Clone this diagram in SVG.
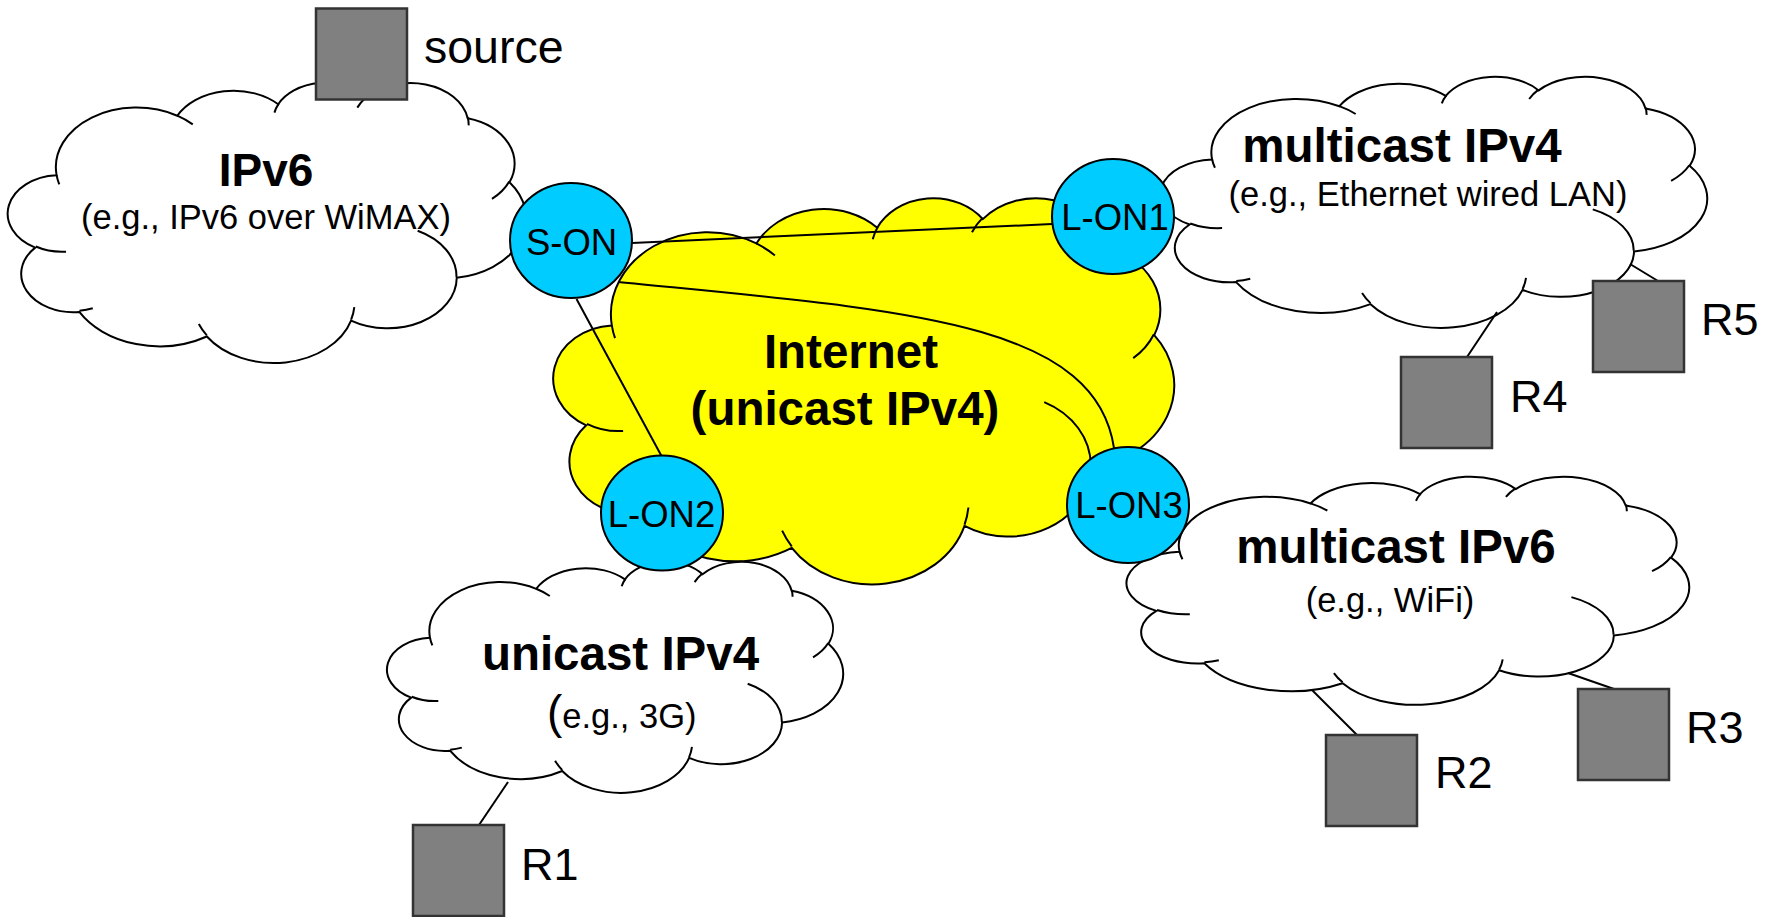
<svg xmlns="http://www.w3.org/2000/svg" xmlns:xlink="http://www.w3.org/1999/xlink" width="1777" height="917" viewBox="0 0 1777 917">
  <style>
    .cloud-body { stroke: #000; stroke-width: 2; vector-effect: non-scaling-stroke; }
    .cloud-fold { fill: none; stroke: #000; stroke-width: 2; vector-effect: non-scaling-stroke; }
    .plain { fill: #fff; }
    .inet { fill: #ffff00; }
    .on { fill: #00ccff; stroke: #000; stroke-width: 2; }
    .host { fill: #808080; stroke: #333; stroke-width: 2.5; }
    .link { fill: none; stroke: #000; stroke-width: 2; }
    text { font-family: "Liberation Sans", Arial, sans-serif; fill: #000; }
    .title { font-size: 47.5px; font-weight: bold; text-anchor: middle; }
    .sub { font-size: 34.5px; text-anchor: middle; }
    .onlabel { font-size: 36.5px; text-anchor: middle; }
    .hostlabel { font-size: 45px; }
  </style>
  <defs>
    <!-- cloud outline in a 1000 x 1000 box, plus the interior fold strokes -->
    <g id="cloud">
      <path class="cloud-body" d="M90.3 332.6 A156.3 212.7 0 0 1 324.2 120.4 A123.4 168.2 0 0 1 519.8 79.5 A101 137.6 0 0 1 690.6 57.4 A112.4 152.7 0 0 1 887 129.1 A123.4 168.4 0 0 1 968 357.9 A156.8 213.4 0 0 1 865.8 699.1 A133.9 182.1 0 0 1 661 852.2 A156.3 213.3 0 0 1 381.5 909 A178.7 244.1 0 0 1 134.4 821.1 A100.9 137 0 0 1 48.9 591.5 A100.6 137.6 0 0 1 90.3 332.6 Z"/>
      <path class="cloud-fold" d="M108.6 605.9 A100.6 137.6 0 0 1 50 587.5 M160.4 807.8 A100.9 137 0 0 1 134.7 816.7 M381.4 904.9 A156.3 213.3 0 0 1 365.9 864.5 M667.3 804.4 A156.3 213.3 0 0 1 661.1 848.6 M790 531.3 A133.9 182.1 0 0 1 865.3 696.5 M967.5 355.4 A123.4 168.4 0 0 1 934 417.4 M887.1 125.6 A112.4 152.7 0 0 1 888.9 154.9 M673.1 91.5 A112.4 152.7 0 0 1 690.3 54.1 M512.5 109.3 A101 137.6 0 0 1 520.8 77.1 M324.1 120.2 A156.3 212.7 0 0 1 354.2 151.4 M95.5 365.5 A156.3 212.7 0 0 1 90.3 332.6"/>
    </g>
  </defs>

  <rect width="1777" height="917" fill="#fff"/>

  <!-- networks -->
  <g id="net-ipv6">
    <use xlink:href="#cloud" class="plain" transform="translate(10 82) scale(0.516 0.28)"/>
  </g>
  <g id="net-internet">
    <use xlink:href="#cloud" class="inet" transform="translate(556 197) scale(0.618 0.386)"/>
  </g>
  <g id="net-mcast-ipv4">
    <use xlink:href="#cloud" class="plain" transform="translate(1163 76) scale(0.544 0.251)"/>
  </g>
  <g id="net-mcast-ipv6">
    <use xlink:href="#cloud" class="plain" transform="translate(1129 476) scale(0.56 0.228)"/>
  </g>
  <g id="net-unicast-ipv4">
    <use xlink:href="#cloud" class="plain" transform="translate(389 561) scale(0.454 0.231)"/>
  </g>

  <!-- links -->
  <g id="connectors">
    <line class="link" x1="632" y1="243" x2="1052" y2="224"/>
    <line class="link" x1="576.5" y1="299" x2="661.5" y2="456"/>
    <path class="link" d="M618 282 C900 310 1095 320 1114 448"/>
    <line class="link" x1="1630" y1="264" x2="1658" y2="281"/>
    <line class="link" x1="1497" y1="312" x2="1467" y2="357"/>
    <line class="link" x1="1568" y1="673" x2="1614" y2="689"/>
    <line class="link" x1="1312" y1="690" x2="1357" y2="735"/>
    <line class="link" x1="508" y1="782" x2="479" y2="825"/>
  </g>

  <!-- overlay nodes -->
  <g id="s-on">
    <ellipse class="on" cx="571" cy="240.5" rx="61" ry="57.5"/>
    <text class="onlabel" x="571.5" y="255">S-ON</text>
  </g>
  <g id="l-on1">
    <ellipse class="on" cx="1113" cy="216.5" rx="61" ry="57.5"/>
    <text class="onlabel" x="1115" y="230">L-ON1</text>
  </g>
  <g id="l-on2">
    <ellipse class="on" cx="662" cy="513" rx="61" ry="57.5"/>
    <text class="onlabel" x="661.5" y="527">L-ON2</text>
  </g>
  <g id="l-on3">
    <ellipse class="on" cx="1128" cy="505" rx="61" ry="58"/>
    <text class="onlabel" x="1129" y="518">L-ON3</text>
  </g>

  <!-- hosts -->
  <g id="source">
    <rect class="host" x="316" y="8.5" width="91" height="91"/>
    <text class="hostlabel" x="424" y="63" style="font-size:46.5px">source</text>
  </g>
  <g id="r1">
    <rect class="host" x="413" y="825" width="91" height="91"/>
    <text class="hostlabel" x="521" y="880">R1</text>
  </g>
  <g id="r2">
    <rect class="host" x="1326" y="735" width="91" height="91"/>
    <text class="hostlabel" x="1435" y="788">R2</text>
  </g>
  <g id="r3">
    <rect class="host" x="1578" y="689" width="91" height="91"/>
    <text class="hostlabel" x="1686" y="743">R3</text>
  </g>
  <g id="r4">
    <rect class="host" x="1401" y="357" width="91" height="91"/>
    <text class="hostlabel" x="1510" y="412">R4</text>
  </g>
  <g id="r5">
    <rect class="host" x="1593" y="281" width="91" height="91"/>
    <text class="hostlabel" x="1701" y="335">R5</text>
  </g>

  <!-- network labels -->
  <g id="labels">
    <text class="title" x="266" y="186" style="font-size:46px">IPv6</text>
    <text class="sub" x="266" y="229">(e.g., IPv6 over WiMAX)</text>
    <text class="title" x="851" y="368">Internet</text>
    <text class="title" x="845" y="425">(unicast IPv4)</text>
    <text class="title" x="1402" y="162">multicast IPv4</text>
    <text class="sub" x="1428" y="206">(e.g., Ethernet wired LAN)</text>
    <text class="title" x="1396" y="563">multicast IPv6</text>
    <text class="sub" x="1390" y="612">(e.g., WiFi)</text>
    <text class="title" x="620.5" y="670">unicast IPv4</text>
    <text x="547" y="728" style="font-size:34.5px"><tspan style="font-size:46px">(</tspan>e.g., 3G)</text>
  </g>
</svg>
